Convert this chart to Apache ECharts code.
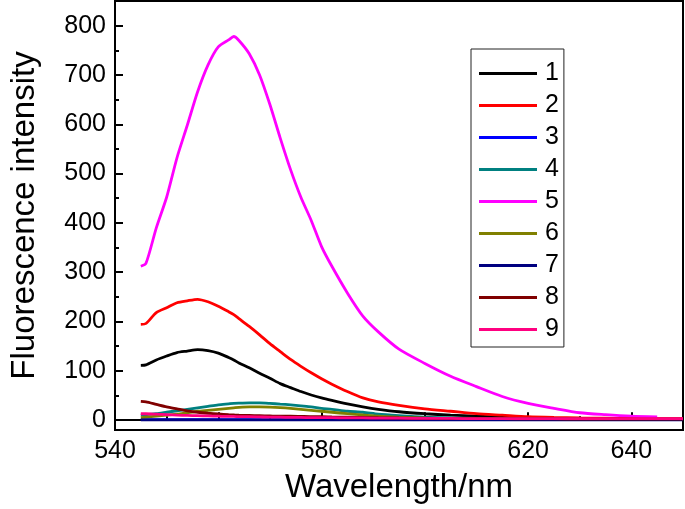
<!DOCTYPE html>
<html>
<head>
<meta charset="utf-8">
<script src="https://cdn.jsdelivr.net/npm/echarts@6/dist/echarts.min.js"></script>
<style>
html,body{margin:0;padding:0;background:#fff;}
#chart{width:685px;height:509px;}
</style>
</head>
<body>
<div id="chart"></div>
<script>
// ---- data ----
const wavelengths = [545, 546, 548, 550, 552, 554, 556, 558, 560, 562, 563, 564, 566, 568, 570, 572, 574, 576, 578, 580, 582, 585, 588, 591, 595, 600, 605, 610, 615, 620, 625, 630, 635, 640, 645, 650];
const s1 = [111, 112, 122, 130, 137, 140, 143, 141, 136, 127, 122, 116, 106, 95, 85, 74, 66, 58, 51, 45, 40, 33, 27, 22, 17, 13, 10, 8, 6, 4.5, 3.5, 3, 2.5, 2, 2, 2];
const s2 = [194, 196, 218, 228, 238, 242, 245, 240, 231, 220, 214, 206, 190, 173, 155, 139, 123, 109, 96, 84, 73, 58, 45, 37, 30, 23, 18, 13, 10, 7, 5.5, 4.5, 4, 3.5, 3, 3];
const s3 = [1, 1, 1, 1, 1, 1, 1, 1, 1, 1, 1, 1, 1, 1, 1, 1, 1, 1, 1, 1, 1, 1, 1, 1, 1, 1, 1, 1, 1, 1, 1, 1, 1, 1, 1, 1];
const s4 = [10, 11, 13, 16, 19, 22, 25, 28, 31, 33, 34, 34.5, 35, 35, 34, 32.5, 31, 29, 27, 24, 22, 18, 16, 12, 9, 6, 4.5, 3.5, 3, 2.5, 2, 2, 1.5, 1.5, 1.5, 1.5];
const s5 = [312, 318, 390, 452, 532, 598, 666, 720, 757, 771, 778, 770, 743, 700, 640, 572, 508, 452, 405, 352, 312, 258, 211, 179, 144, 115, 89, 68, 48, 34, 24, 15, 11, 8, 6.5, null];
const s6 = [5, 6, 8, 10, 12, 15, 18, 20, 22, 24, 25, 26, 27, 27, 26.5, 25.5, 24, 22, 20, 18, 16, 13, 10.5, 8, 6, 4, 3, 2.5, 2, 2, 1.5, 1.5, 1.5, 1, 1, 1];
const s7 = [0.5, 0.5, 0.5, 0.5, 0.5, 0.5, 0.5, 0.5, 0.5, 0.5, 0.5, 0.5, 0.5, 0.5, 0.5, 0.5, 0.5, 0.5, 0.5, 0.5, 0.5, 0.5, 0.5, 0.5, 0.5, 0.5, 0.5, 0.5, 0.5, 0.5, 0.5, 0.5, 0.5, 0.5, 0.5, 0.5];
const s8 = [38, 37, 32, 27, 23, 19, 16, 14, 12.5, 11, 10.5, 10, 9.5, 9, 8.5, 8, 8, 7.5, 7, 7, 6.5, 6, 5.5, 5, 4.5, 4, 3.5, 3, 3, 2.5, 2.5, 2, 2, 2, 2, 2];
const s9 = [13, 13, 12, 11, 10, 9.5, 9, 8.5, 8, 7.5, 7.5, 7, 7, 6.5, 6, 6, 5.5, 5.5, 5, 5, 5, 4.5, 4.5, 4, 4, 3.5, 3.5, 3, 3, 3, 3, 3, 3, 3, 3, 3];
const seriesNames = ['1', '2', '3', '4', '5', '6', '7', '8', '9'];
const seriesValues = [s1, s2, s3, s4, s5, s6, s7, s8, s9];
const xMajorTicks = [540, 560, 580, 600, 620, 640];
const xMinorTicks = [550, 570, 590, 610, 630];
const yMajorTicks = [0, 100, 200, 300, 400, 500, 600, 700, 800];
const yMinorTicks = [50, 150, 250, 350, 450, 550, 650, 750];

// ---- style ----
const colors = ['#000000', '#ff0000', '#0000ff', '#008080', '#ff00ff', '#808000', '#000080', '#800000', '#ff0080'];
const FONT = '"Liberation Sans", Arial, Helvetica, sans-serif';
const X_MIN = 540, X_MAX = 650, Y_MIN = -20, Y_MAX = 850;

const chart = echarts.init(document.getElementById('chart'), null, {renderer: 'canvas'});

const series = seriesNames.map((name, k) => ({
  name: name,
  type: 'line',
  xAxisIndex: 0,
  yAxisIndex: 0,
  symbol: 'none',
  showSymbol: false,
  smooth: 0.25,
  connectNulls: false,
  lineStyle: {color: colors[k], width: 2.8},
  itemStyle: {color: colors[k]},
  data: wavelengths.map((w, i) => [w, seriesValues[k][i]])
}));

const axisLine = {show: true, lineStyle: {color: '#000', width: 2}};

chart.setOption({
  animation: false,
  backgroundColor: '#fff',
  textStyle: {fontFamily: FONT},
  grid: {left: 108, right: 2, top: 1, bottom: 79, show: true, borderColor: '#000', borderWidth: 2, backgroundColor: 'transparent'},
  legend: {
    orient: 'vertical',
    left: 471, top: 49,
    backgroundColor: '#fff',
    borderColor: '#222', borderWidth: 1,
    padding: [12, 5, 5, 8],
    icon: 'rect',
    itemWidth: 58, itemHeight: 3, itemGap: 7,
    textStyle: {fontSize: 25, lineHeight: 24, height: 24, color: '#000', fontFamily: FONT, padding: [0, 0, 0, 3]},
    data: seriesNames
  },
  xAxis: [
    {
      type: 'value', min: X_MIN, max: X_MAX,
      name: 'Wavelength/nm', nameLocation: 'middle', nameGap: 41,
      nameTextStyle: {fontSize: 33, color: '#000', fontFamily: FONT},
      axisLine: axisLine,
      axisTick: {show: true, inside: true, length: 8, lineStyle: {color: '#000', width: 2}, customValues: xMajorTicks},
      axisLabel: {show: true, fontSize: 25, color: '#000', margin: 9, fontFamily: FONT, customValues: xMajorTicks},
      splitLine: {show: false}
    },
    {
      type: 'value', min: X_MIN, max: X_MAX, position: 'bottom',
      axisLine: {show: false},
      axisTick: {show: true, inside: true, length: 4, lineStyle: {color: '#000', width: 2}, customValues: xMinorTicks},
      axisLabel: {show: false},
      splitLine: {show: false}
    }
  ],
  yAxis: [
    {
      type: 'value', min: Y_MIN, max: Y_MAX,
      name: 'Fluorescence intensity', nameLocation: 'middle', nameGap: 74,
      nameTextStyle: {fontSize: 33, color: '#000', fontFamily: FONT},
      axisLine: axisLine,
      axisTick: {show: true, inside: true, length: 8, lineStyle: {color: '#000', width: 2}, customValues: yMajorTicks},
      axisLabel: {show: true, fontSize: 25, color: '#000', margin: 9, fontFamily: FONT, customValues: yMajorTicks},
      splitLine: {show: false}
    },
    {
      type: 'value', min: Y_MIN, max: Y_MAX, position: 'left',
      axisLine: {show: false},
      axisTick: {show: true, inside: true, length: 4, lineStyle: {color: '#000', width: 2}, customValues: yMinorTicks},
      axisLabel: {show: false},
      splitLine: {show: false}
    }
  ],
  series: series
});
</script>
</body>
</html>
